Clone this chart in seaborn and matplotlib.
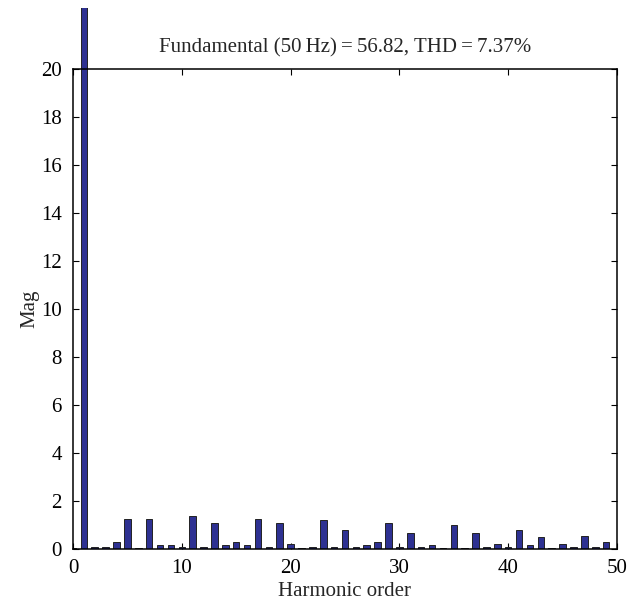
import numpy as np
import pandas as pd
import seaborn as sns
import matplotlib
matplotlib.use("Agg")
import matplotlib.pyplot as plt
from matplotlib.transforms import Bbox, TransformedBbox

# Harmonic spectrum (order 0 = DC, 1 = fundamental)
orders = list(range(0, 50))
magnitudes = [
    0.03, 56.82, 0.10, 0.10, 0.28, 1.25, 0.05, 1.25, 0.15, 0.15,
    0.10, 1.36, 0.10, 1.07, 0.15, 0.28, 0.15, 1.25, 0.10, 1.07,
    0.20, 0.05, 0.10, 1.20, 0.10, 0.80, 0.10, 0.15, 0.28, 1.10,
    0.10, 0.67, 0.10, 0.15, 0.05, 1.00, 0.05, 0.67, 0.10, 0.22,
    0.10, 0.80, 0.15, 0.50, 0.05, 0.22, 0.10, 0.55, 0.10, 0.28,
]
x_ticks = [0, 10, 20, 30, 40, 50]
y_ticks = [0, 2, 4, 6, 8, 10, 12, 14, 16, 18, 20]
title_text = "Fundamental (50\u2009Hz)\u2009=\u200956.82, THD\u2009=\u20097.37%"

df = pd.DataFrame({"order": orders, "mag": magnitudes})

sns.set_style("ticks")
plt.rcParams["font.family"] = ["Liberation Serif", "DejaVu Serif"]
FS = 15

fig = plt.figure(figsize=(6.38, 6.02), dpi=100)
ax = fig.add_axes([0.1144, 0.088, 0.8527, 0.797])

sns.barplot(data=df, x="order", y="mag", native_scale=True, width=0.6,
            color="#2e3192", saturation=1, edgecolor="#222222", linewidth=0.7,
            ax=ax)

ax.set_xlim(0, 50)
ax.set_ylim(0, 20)
ax.set_xticks(x_ticks)
ax.set_yticks(y_ticks)
ax.set_xlabel("Harmonic order", fontsize=FS, labelpad=3)
ax.set_ylabel("Mag", fontsize=FS, labelpad=1)
ax.set_title(title_text, fontsize=FS, pad=12)

for s in ax.spines.values():
    s.set_visible(True)
    s.set_linewidth(1.1)
    s.set_color("black")
ax.tick_params(direction="in", length=4, width=0.8, top=True, right=True,
               labelsize=FS, colors="black")
ax.tick_params(axis="x", pad=7)
ax.tick_params(axis="y", pad=8)

# Let the fundamental bar run above the plot frame, up to near the top edge
clip = TransformedBbox(Bbox([[0.1144, 0.088], [0.9671, 1 - 8 / 602]]),
                       fig.transFigure)
for p in ax.patches:
    p.set_clip_box(clip)

fig.savefig("out.png", dpi=100)
